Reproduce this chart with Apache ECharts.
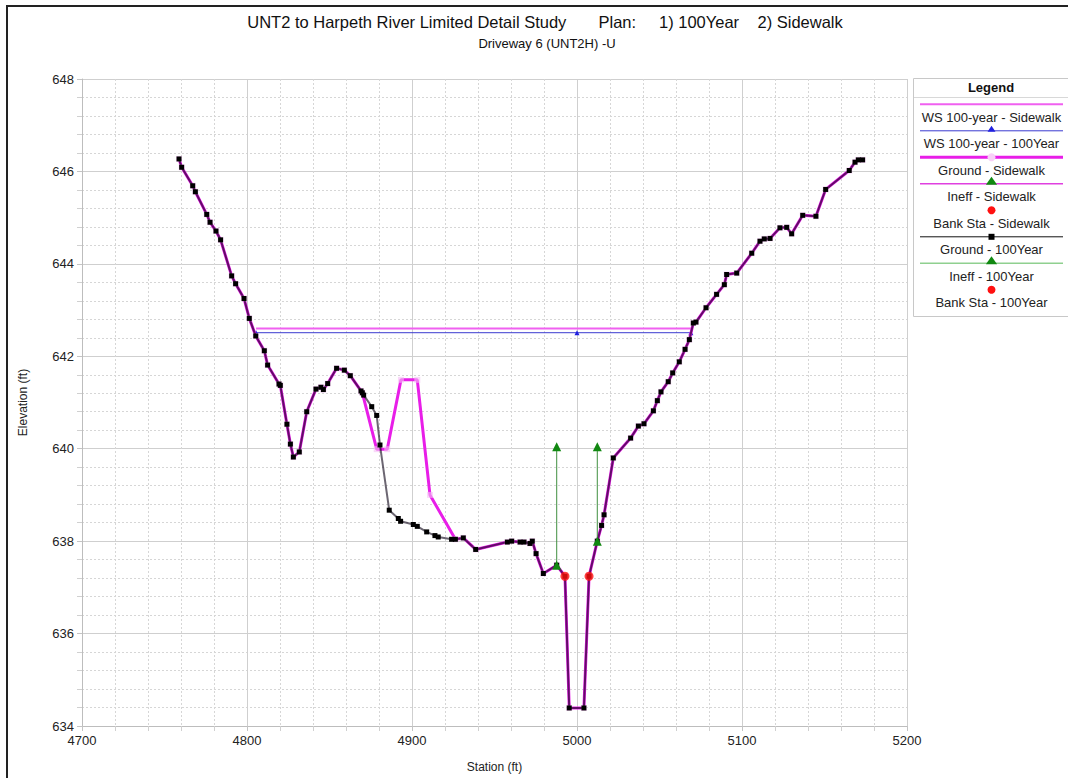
<!DOCTYPE html>
<html>
<head>
<meta charset="utf-8">
<script src="https://cdn.jsdelivr.net/npm/echarts@6/dist/echarts.min.js"></script>
<style>
  html, body { margin: 0; padding: 0; background: #fff; }
  #chart { width: 1068px; height: 778px; }
</style>
</head>
<body>
<div id="chart"></div>
<script>
// ground profile, plan 1 (100Year): [station, elevation]
var ground100 = [
  [4758.8, 646.27], [4760.4, 646.09], [4767.1, 645.69], [4768.7, 645.56], [4775.6, 645.07],
  [4777.6, 644.90], [4781.2, 644.71], [4784.0, 644.52], [4790.7, 643.74], [4793.1, 643.57],
  [4798.2, 643.25], [4801.4, 642.82], [4805.3, 642.44], [4810.5, 642.12], [4812.5, 641.81],
  [4819.4, 641.40], [4820.2, 641.37], [4824.2, 640.53], [4826.3, 640.10], [4828.1, 639.82],
  [4831.7, 639.93], [4836.2, 640.80], [4841.8, 641.29], [4844.8, 641.33], [4846.3, 641.28],
  [4848.9, 641.41], [4854.3, 641.74], [4859.0, 641.70], [4862.6, 641.58], [4869.1, 641.25],
  [4869.9, 641.21], [4870.7, 641.16], [4875.6, 640.91], [4878.6, 640.72], [4880.6, 640.08],
  [4886.2, 638.67], [4891.7, 638.49], [4893.1, 638.43], [4900.8, 638.36], [4903.2, 638.32],
  [4908.9, 638.20], [4913.9, 638.12], [4915.9, 638.09], [4924.0, 638.04], [4926.3, 638.04],
  [4931.1, 638.07], [4938.6, 637.82], [4957.8, 637.98], [4960.4, 638.00], [4965.5, 637.98],
  [4967.9, 637.98], [4971.5, 637.95], [4972.9, 638.00], [4975.2, 637.73], [4979.6, 637.30],
  [4987.7, 637.48], [4992.7, 637.24], [4995.3, 634.39], [5004.2, 634.39], [5007.3, 637.24],
  [5012.3, 638.00], [5014.9, 638.34], [5016.4, 638.57], [5022.0, 639.80], [5032.5, 640.23],
  [5037.2, 640.49], [5040.6, 640.54], [5046.3, 640.82], [5048.7, 641.04], [5050.9, 641.23],
  [5055.3, 641.45], [5058.0, 641.64], [5062.0, 641.88], [5065.5, 642.15], [5068.1, 642.36],
  [5070.5, 642.72], [5072.1, 642.74], [5078.2, 643.05], [5084.6, 643.34], [5089.3, 643.55],
  [5090.7, 643.77], [5096.8, 643.80], [5105.9, 644.23], [5110.9, 644.49], [5113.5, 644.54],
  [5117.0, 644.55], [5123.0, 644.78], [5127.1, 644.79], [5130.1, 644.65], [5136.8, 645.05],
  [5144.8, 645.03], [5150.7, 645.61], [5165.0, 646.02], [5168.5, 646.20], [5170.5, 646.25],
  [5173.1, 646.25]
];

// ground profile, plan 2 (Sidewalk) - only differs between 4870 and 4926
var sidewalkSection = [
  [4878.6, 639.99], [4885.0, 639.99], [4893.3, 641.49], [4903.2, 641.49], [4910.9, 639.00]
];

// water surface
var wsSidewalk = [[4805.5, 642.60], [5069.0, 642.60]];
var ws100 = [[4805.5, 642.51], [5000.0, 642.51], [5069.0, 642.51]];

// ineffective flow limits (null breaks the two verticals)
var ineff = [[4987.7, 637.48], [4987.7, 640.04], null, [5012.3, 638.00], [5012.3, 640.04]];
var bankSta = [[4992.7, 637.24], [5007.3, 637.24]];

var xTicks = { min: 4700, max: 5200, step: 100 };
var yTicks = { min: 634, max: 648, step: 2 };

var legendNames = [
  'WS 100-year - Sidewalk', 'WS 100-year - 100Year', 'Ground - Sidewalk', 'Ineff - Sidewalk',
  'Bank Sta - Sidewalk', 'Ground - 100Year', 'Ineff - 100Year', 'Bank Sta - 100Year'
];

// build sidewalk ground from the 100Year one
var groundSidewalk = [];
ground100.forEach(function (p) {
  if (p[0] > 4870 && p[0] < 4926) return;
  groundSidewalk.push(p);
  if (p[0] === 4869.9) sidewalkSection.forEach(function (q) { groundSidewalk.push(q); });
});

var FONT = '"Liberation Sans", Arial, sans-serif';
var MAG = '#e81ee8';

// legend drawn by hand (line sample above each label)
var legendStyle = [
  { line: '#f060f0', w: 2 },
  { line: '#3a3ad0', w: 1, sym: 'tri', col: '#2020e0', size: 5 },
  { line: MAG, w: 3, sym: 'dot', col: '#f8d0f8', size: 4 },
  { line: '#e040e0', w: 1.5, sym: 'tri', col: '#118811', size: 7 },
  { sym: 'dot', col: '#ff1010', size: 4 },
  { line: '#111', w: 1, sym: 'sq', col: '#000', size: 3 },
  { line: '#8fd08f', w: 1.5, sym: 'tri', col: '#118811', size: 7 },
  { sym: 'dot', col: '#ff1010', size: 4 }
];

var graphic = [
  { type: 'rect', shape: { x: 7, y: 6, width: 1075, height: 790 }, style: { fill: 'none', stroke: '#222', lineWidth: 2 } },
  { type: 'text', x: 545, y: 22, style: { text: 'UNT2 to Harpeth River Limited Detail Study       Plan:     1) 100Year    2) Sidewalk', font: '16.5px ' + FONT, fill: '#111', textAlign: 'center', textVerticalAlign: 'middle' } },
  { type: 'text', x: 547, y: 43, style: { text: 'Driveway 6 (UNT2H) -U', font: '13px ' + FONT, fill: '#111', textAlign: 'center', textVerticalAlign: 'middle' } },
  { type: 'rect', shape: { x: 913.5, y: 78.5, width: 160, height: 238 }, style: { fill: '#fff', stroke: '#c8c8c8', lineWidth: 1 } },
  { type: 'line', shape: { x1: 914, y1: 97.5, x2: 1068, y2: 97.5 }, style: { stroke: '#d8d8d8', lineWidth: 1 } },
  { type: 'text', x: 991, y: 87, style: { text: 'Legend', font: 'bold 13px ' + FONT, fill: '#111', textAlign: 'center', textVerticalAlign: 'middle' } }
];
legendNames.forEach(function (name, i) {
  var s = legendStyle[i];
  var ly = 104.3 + i * 26.5;
  if (s.line) {
    graphic.push({ type: 'line', shape: { x1: 920, y1: ly, x2: 1063, y2: ly }, style: { stroke: s.line, lineWidth: s.w } });
  }
  if (s.sym === 'tri') {
    graphic.push({ type: 'polygon', shape: { points: [[991.5, ly - s.size], [991.5 - s.size * 0.8, ly + 1], [991.5 + s.size * 0.8, ly + 1]] }, style: { fill: s.col } });
  } else if (s.sym === 'dot') {
    graphic.push({ type: 'circle', shape: { cx: 991.5, cy: ly, r: s.size }, style: { fill: s.col } });
  } else if (s.sym === 'sq') {
    graphic.push({ type: 'rect', shape: { x: 991.5 - s.size, y: ly - s.size, width: s.size * 2, height: s.size * 2 }, style: { fill: s.col } });
  }
  graphic.push({ type: 'text', x: 991.5, y: ly + 13, style: { text: name, font: '13px ' + FONT, fill: '#222', textAlign: 'center', textVerticalAlign: 'middle' } });
});

var chart = echarts.init(document.getElementById('chart'), null, { renderer: 'svg' });

function axisBase() {
  return {
    type: 'value',
    nameLocation: 'middle',
    nameTextStyle: { fontFamily: FONT, fontSize: 12, color: '#222' },
    axisLine: { show: true, lineStyle: { color: '#bdbdbd' } },
    axisTick: { show: true, length: 5, lineStyle: { color: '#c4c4c4' } },
    minorTick: { show: true, splitNumber: 5, length: 5, lineStyle: { color: '#d0d0d0' } },
    axisLabel: { fontFamily: FONT, fontSize: 13, color: '#222', formatter: function (v) { return String(v); } },
    splitLine: { show: true, lineStyle: { color: '#cfcfcf', width: 1 } },
    minorSplitLine: { show: true, lineStyle: { color: '#d6d6d6', type: [2, 2], width: 1 } }
  };
}

var xAxis = axisBase();
Object.assign(xAxis, { name: 'Station (ft)', nameGap: 35, min: xTicks.min, max: xTicks.max, interval: xTicks.step });
xAxis.axisLabel.margin = 8;
var yAxis = axisBase();
Object.assign(yAxis, { name: 'Elevation (ft)', nameGap: 53, min: yTicks.min, max: yTicks.max, interval: yTicks.step });
yAxis.axisLabel.margin = 8;

chart.setOption({
  animation: false,
  backgroundColor: '#fff',
  grid: { left: 82, right: 161, top: 79, bottom: 50 },
  xAxis: xAxis,
  yAxis: yAxis,
  graphic: graphic,
  series: [
    {
      name: legendNames[0], type: 'line', data: wsSidewalk, showSymbol: false, z: 2,
      lineStyle: { color: '#f060f0', width: 2 }
    },
    {
      name: legendNames[1], type: 'line', data: ws100, symbol: 'triangle', symbolSize: 5, z: 3,
      itemStyle: { color: '#2020e0' }, lineStyle: { color: '#3a3ad0', width: 1 }
    },
    {
      name: legendNames[2], type: 'line', data: groundSidewalk, symbol: 'rect', symbolSize: 6, z: 4,
      itemStyle: { color: 'rgba(245,190,245,0.6)' }, lineStyle: { color: MAG, width: 3 }
    },
    {
      // semi-transparent so that where both grounds overlap the line reads purple
      name: legendNames[5], type: 'line', data: ground100, symbol: 'rect', symbolSize: 5, z: 5,
      itemStyle: { color: '#000' }, lineStyle: { color: 'rgba(10,0,20,0.6)', width: 2 }
    },
    {
      name: legendNames[6], type: 'line', data: ineff, symbol: 'triangle', symbolSize: 9, z: 6,
      connectNulls: false, itemStyle: { color: '#118811' }, lineStyle: { color: '#3f8f3f', width: 1 }
    },
    {
      name: legendNames[7], type: 'scatter', data: bankSta, symbol: 'circle', symbolSize: 9, z: 7,
      itemStyle: { color: '#ff1010' }
    }
  ]
});
</script>
</body>
</html>
